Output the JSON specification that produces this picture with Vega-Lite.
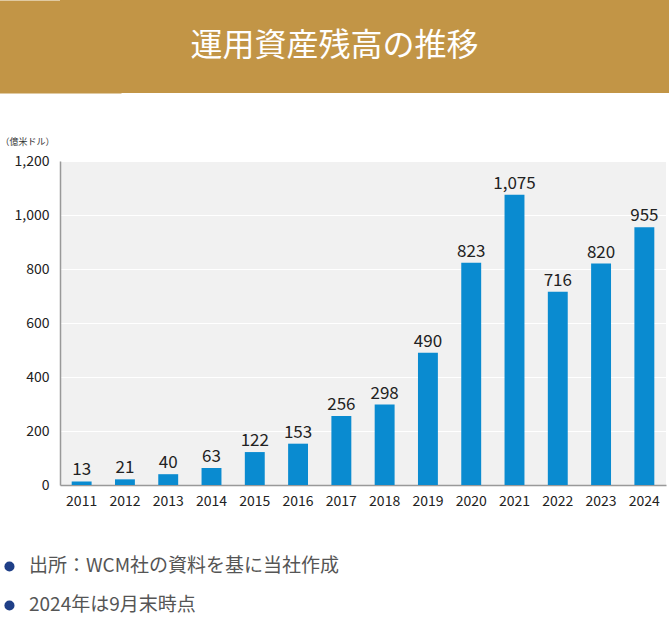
{
  "$schema": "https://vega.github.io/schema/vega-lite/v6.json",
  "padding": 0,
  "background": "white",
  "datasets": {
    "banner": [{"title": "運用資産残高の推移"}],
    "aum": [
      {"year": "2011", "value": 13},
      {"year": "2012", "value": 21},
      {"year": "2013", "value": 40},
      {"year": "2014", "value": 63},
      {"year": "2015", "value": 122},
      {"year": "2016", "value": 153},
      {"year": "2017", "value": 256},
      {"year": "2018", "value": 298},
      {"year": "2019", "value": 490},
      {"year": "2020", "value": 823},
      {"year": "2021", "value": 1075},
      {"year": "2022", "value": 716},
      {"year": "2023", "value": 820},
      {"year": "2024", "value": 955}
    ],
    "notes": [
      {"note": "出所：WCM社の資料を基に当社作成"},
      {"note": "2024年は9月末時点"}
    ]
  },
  "spacing": 44,
  "vconcat": [
    {
      "width": 609,
      "height": 93,
      "view": {"fill": "#C29546", "stroke": null},
      "data": {"name": "banner"},
      "mark": {"type": "text", "color": "white", "fontSize": 32, "font": "Noto Sans CJK JP", "align": "center", "baseline": "middle", "dx": -30, "dy": -1},
      "encoding": {
        "text": {"field": "title"},
        "y": {"field": "title", "type": "nominal", "scale": {"type": "point", "padding": 0.5},
          "axis": {"title": null, "labels": false, "ticks": false, "grid": false, "domain": true, "domainColor": "#C29546", "domainWidth": 122}}
      }
    },
    {
      "width": 606,
      "height": 324,
      "view": {"fill": "#F1F1F1", "stroke": null},
      "data": {"name": "aum"},
      "encoding": {
        "x": {
          "field": "year", "type": "ordinal",
          "scale": {"paddingInner": 0.54, "paddingOuter": 0.27},
          "axis": {"title": null, "labelAngle": 0, "ticks": false, "tickSize": 0, "labelPadding": 9, "labelFontSize": 14, "labelColor": "#222", "labelFont": "Noto Sans CJK JP", "domainColor": "#999", "domainWidth": 1.5, "grid": false}
        },
        "y": {
          "field": "value", "type": "quantitative",
          "scale": {"domain": [0, 1200], "nice": false},
          "axis": {"values": [0, 200, 400, 600, 800, 1000, 1200], "format": ",d", "ticks": false, "tickSize": 0, "labelPadding": 11, "labelFontSize": 14, "labelColor": "#222", "labelFont": "Noto Sans CJK JP", "domainColor": "#999", "domainWidth": 1.5, "grid": true, "gridColor": "white", "gridWidth": 1,
            "title": "（億米ドル）", "titleAngle": 0, "titleAlign": "left", "titleBaseline": "middle", "titleX": -60, "titleY": -20, "titleFontSize": 9, "titleFontWeight": "normal", "titleColor": "#333", "titleFont": "Noto Sans CJK JP"}
        }
      },
      "layer": [
        {"mark": {"type": "bar", "color": "#0A8BD0"}},
        {"mark": {"type": "text", "baseline": "alphabetic", "dy": -6, "fontSize": 17, "color": "#222", "font": "Noto Sans CJK JP"},
         "encoding": {"text": {"field": "value", "type": "quantitative", "format": ",d"}}}
      ]
    },
    {
      "width": 2,
      "height": 67,
      "view": {"stroke": null},
      "data": {"name": "notes"},
      "mark": {"type": "text", "align": "left", "baseline": "middle", "dx": -32, "fontSize": 19, "color": "#555", "font": "Noto Sans CJK JP"},
      "encoding": {
        "y": {"field": "note", "type": "nominal", "sort": null, "scale": {"type": "point", "padding": 0.36},
          "axis": {"title": null, "labels": false, "domain": false, "grid": false, "ticks": true, "tickSize": 0.1, "tickWidth": 10, "tickCap": "round", "tickColor": "#1F3F87", "tickOpacity": 1, "offset": 51}},
        "text": {"field": "note"}
      }
    }
  ],
  "config": {"view": {"stroke": null}}
}
